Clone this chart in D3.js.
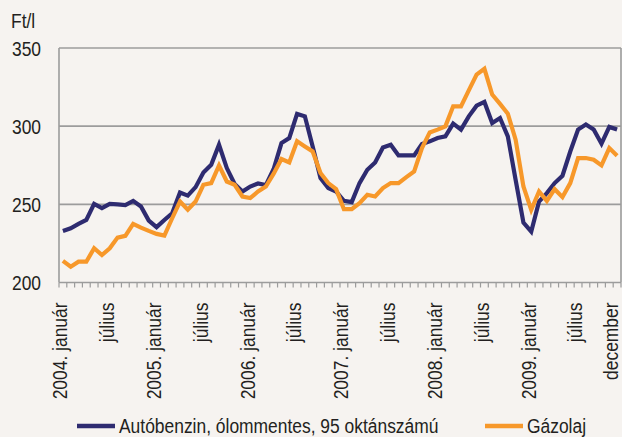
<!DOCTYPE html>
<html>
<head>
<meta charset="utf-8">
<script src="https://cdn.jsdelivr.net/npm/d3@7"></script>
<style>
  body { margin: 0; background: #f6f3f0; }
  svg { display: block; font-family: "Liberation Sans", Arial, sans-serif; }
</style>
</head>
<body>
<script>
// havi átlagárak, Ft/l, 2004. január - 2009. december
var years = [2004, 2005, 2006, 2007, 2008, 2009];
var benzin = [
  233, 234.7, 237.5, 240, 250.3, 247.6, 250.3, 250, 249.5, 252.2, 248.6, 239.6,
  235.4, 240, 244.3, 257.6, 255.6, 261, 270.4, 275.3, 288.1, 273.2, 263, 258.2,
  261.4, 263.3, 262.3, 272.6, 289.2, 292.4, 307.8, 306.3, 287, 266.8, 260.4, 258.2,
  252.2, 251.4, 263.6, 272.1, 276.8, 286.4, 288.1, 281.3, 281.3, 281.3, 288.6, 290.3,
  292.4, 293.5, 301.6, 297.8, 306.3, 313.1, 315.5, 302, 305.2, 293.5, 265.7, 238.3,
  232.6, 251.8, 257.2, 263.6, 268.3, 283.8, 297.8, 301, 297.8, 288.8, 299.5, 297.8
];
var gazolaj = [
  213.8, 210.1, 213.3, 213.3, 221.9, 217.6, 221.9, 228.7, 229.8, 237.5, 235.1, 233,
  231.1, 230, 241.1, 251.8, 246.5, 251.8, 262.5, 263.6, 274.9, 264.6, 262.5, 255,
  254, 258.2, 261.4, 269.6, 279, 276.8, 290.3, 287, 283.8, 270, 263.6, 259.7,
  246.9, 246.9, 250.8, 256.1, 255, 260.4, 263.6, 263.6, 267.4, 271, 286, 296,
  297.8, 299.9, 312.7, 312.7, 322.9, 333, 336.7, 320.2, 314.2, 308, 291.3, 261.4,
  246.5, 258.2, 252.2, 259.7, 254.6, 263.6, 279.6, 279.6, 278.5, 274.9, 286, 281.1
];
var yTicks = [200, 250, 300, 350];
var seriesNames = ['Autóbenzin, ólommentes, 95 oktánszámú', 'Gázolaj'];
var colors = ['#2e2b70', '#f7982a'];

var months = d3.range(benzin.length);
function monthLabel(i) {
  if (i === months.length - 1) return 'december';
  if (i % 12 === 0) return years[i / 12] + '. január';
  if (i % 12 === 6) return 'július';
  return null;
}

var width = 622, height = 437;
var margin = {top: 48, right: 1, bottom: 154.5, left: 59};
var plotW = width - margin.left - margin.right,
    plotH = height - margin.top - margin.bottom;
var narrow = ' scale(0.83,1)';   // keskeny betű utánzása

var svg = d3.select(document.body).append('svg')
    .attr('width', width)
    .attr('height', height);

var x = d3.scaleBand().domain(months).range([0, plotW]);
var y = d3.scaleLinear().domain([200, 350]).range([plotH, 0]);

var g = svg.append('g')
    .attr('transform', 'translate(' + margin.left + ',' + margin.top + ')');

// rácsvonalak
g.selectAll('line.grid').data(yTicks).enter().append('line')
    .attr('class', 'grid')
    .attr('x1', 0).attr('x2', plotW)
    .attr('y1', function(d) { return y(d); })
    .attr('y2', function(d) { return y(d); })
    .attr('stroke', '#9c9c9c')
    .attr('stroke-width', 1.6);

g.append('line')
    .attr('x1', 0).attr('x2', 0).attr('y1', 0).attr('y2', plotH)
    .attr('stroke', '#9c9c9c').attr('stroke-width', 1.6);
g.append('line')
    .attr('x1', plotW).attr('x2', plotW).attr('y1', 0).attr('y2', plotH)
    .attr('stroke', '#9c9c9c').attr('stroke-width', 1.6);

// y tengely feliratok
g.selectAll('text.ylab').data(yTicks).enter().append('text')
    .attr('class', 'ylab')
    .attr('transform', function(d) { return 'translate(-18,' + y(d) + ')' + narrow; })
    .attr('dy', '0.36em')
    .attr('text-anchor', 'end')
    .attr('font-size', 21)
    .attr('fill', '#231f20')
    .text(function(d) { return d; });

svg.append('text')
    .attr('transform', 'translate(11,28)' + narrow)
    .attr('font-size', 21)
    .attr('fill', '#231f20')
    .text('Ft/l');

// x tengely kis osztásai
var tickPos = months.map(function(m) { return x(m); }).concat([plotW]);
g.selectAll('line.xtick').data(tickPos).enter().append('line')
    .attr('class', 'xtick')
    .attr('x1', function(d) { return d; })
    .attr('x2', function(d) { return d; })
    .attr('y1', plotH).attr('y2', plotH + 5)
    .attr('stroke', '#9c9c9c').attr('stroke-width', 1.2);

var labelled = months.filter(function(m) { return monthLabel(m) !== null; });
g.selectAll('text.xlab').data(labelled).enter().append('text')
    .attr('class', 'xlab')
    .attr('transform', function(m) {
      return 'translate(' + (x(m) + x.bandwidth() / 2) + ',' + (plotH + 20) + ') rotate(-90)' + narrow;
    })
    .attr('dy', function(m) { return m === months.length - 1 ? '0.05em' : '0.21em'; })
    .attr('text-anchor', 'end')
    .attr('font-size', 21)
    .attr('fill', '#231f20')
    .text(monthLabel);

// vonalak
var line = d3.line()
    .x(function(d, i) { return x(i) + x.bandwidth() / 2; })
    .y(function(d) { return y(d); });

[benzin, gazolaj].forEach(function(series, k) {
  g.append('path')
      .datum(series)
      .attr('fill', 'none')
      .attr('stroke', colors[k])
      .attr('stroke-width', 4.2)
      .attr('stroke-linejoin', 'miter')
      .attr('d', line);
});

// jelmagyarázat
var legendX = [77, 485];
seriesNames.forEach(function(name, k) {
  svg.append('line')
      .attr('x1', legendX[k]).attr('x2', legendX[k] + 38)
      .attr('y1', 426).attr('y2', 426)
      .attr('stroke', colors[k])
      .attr('stroke-width', 4.5);
  svg.append('text')
      .attr('transform', 'translate(' + (legendX[k] + 42) + ',433)' + narrow)
      .attr('font-size', 21)
      .attr('fill', '#231f20')
      .text(name);
});
</script>
</body>
</html>
